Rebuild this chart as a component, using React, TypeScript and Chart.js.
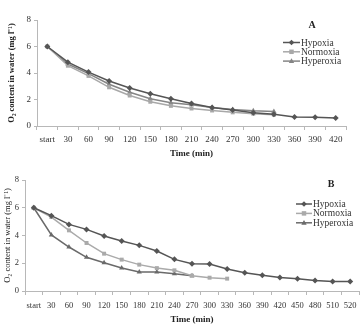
import React, { useEffect, useRef } from 'react';
import { Chart, registerables } from 'chart.js';
Chart.register(...registerables);

const labelsA = ['start', '30', '60', '90', '120', '150', '180', '210', '240', '270', '300', '330', '360', '390', '420'];
const hypoxiaA = [6.0, 4.82, 4.07, 3.4, 2.87, 2.44, 2.06, 1.7, 1.4, 1.2, 1.0, 0.88, 0.68, 0.66, 0.6];
const normoxiaA = [6.0, 4.55, 3.78, 2.92, 2.3, 1.83, 1.52, 1.32, 1.17, 1.03, 0.93, 0.85];
const hyperoxiaA = [6.0, 4.68, 3.95, 3.15, 2.55, 2.05, 1.75, 1.6, 1.4, 1.25, 1.15, 1.1];

const labelsB = ['start', '30', '60', '90', '120', '150', '180', '210', '240', '270', '300', '330', '360', '390', '420', '450', '480', '510', '520'];
const hypoxiaB = [6.0, 5.43, 4.8, 4.44, 3.96, 3.6, 3.29, 2.88, 2.28, 1.97, 1.95, 1.58, 1.32, 1.13, 0.98, 0.89, 0.75, 0.68, 0.68];
const normoxiaB = [6.0, 5.33, 4.37, 3.46, 2.69, 2.26, 1.9, 1.65, 1.49, 1.1, 0.96, 0.89];
const hyperoxiaB = [6.0, 4.04, 3.17, 2.43, 2.04, 1.66, 1.37, 1.37, 1.25, 1.1];

const seriesNames = ['Hypoxia', 'Normoxia', 'Hyperoxia'];
const yTicks = [0, 2, 4, 6, 8];

const SERIF = '"Liberation Serif", "Times New Roman", serif';

function drawMarker(ctx: CanvasRenderingContext2D, style: string, x: number, y: number, r: number, color: string) {
  ctx.fillStyle = color;
  ctx.beginPath();
  if (style === 'rectRot') {
    ctx.moveTo(x, y - r);
    ctx.lineTo(x + r, y);
    ctx.lineTo(x, y + r);
    ctx.lineTo(x - r, y);
  } else if (style === 'rect') {
    ctx.rect(x - r * 0.8, y - r * 0.8, r * 1.6, r * 1.6);
  } else {
    ctx.moveTo(x, y - r);
    ctx.lineTo(x + r * 0.95, y + r * 0.7);
    ctx.lineTo(x - r * 0.95, y + r * 0.7);
  }
  ctx.closePath();
  ctx.fill();
}

interface PanelCfg {
  labels: string[];
  data: number[][];
  colors: string[];
  letter: string;
  letterX: number;
  letterY: number;
  legX0: number;
  legX1: number;
  legY0: number;
  legDy: number;
  yAxisWidth: number;
  xAxisHeight: number;
  padTop: number;
  padRight: number;
  tickSize: number;
  yTitleSize: number;
  yTitleBold: boolean;
  yTitlePad: number;
  xTitlePadBottom: number;
  xTickPad: number;
  height: number;
}

const styles = ['rectRot', 'rect', 'triangle'];

function Panel({ cfg, top }: { cfg: PanelCfg; top: number }) {
  const ref = useRef<HTMLCanvasElement>(null);
  useEffect(() => {
    if (!ref.current) return;
    const legendPlugin = {
      id: 'panelLegend',
      afterDraw(chart: any) {
        const ctx = chart.ctx as CanvasRenderingContext2D;
        ctx.save();
        ctx.font = `bold 10px ${SERIF}`;
        ctx.fillStyle = '#222';
        ctx.textAlign = 'center';
        ctx.textBaseline = 'middle';
        ctx.fillText(cfg.letter, cfg.letterX, cfg.letterY);
        chart.data.datasets.forEach((ds: any, i: number) => {
          const y = cfg.legY0 + i * cfg.legDy;
          ctx.strokeStyle = ds.borderColor;
          ctx.lineWidth = 1.5;
          ctx.beginPath();
          ctx.moveTo(cfg.legX0, y);
          ctx.lineTo(cfg.legX1, y);
          ctx.stroke();
          drawMarker(ctx, styles[i], (cfg.legX0 + cfg.legX1) / 2, y, 2.8, ds.borderColor);
          ctx.fillStyle = '#333';
          ctx.font = `9.5px ${SERIF}`;
          ctx.textAlign = 'left';
          ctx.fillText(ds.label, cfg.legX1 + 1, y + 0.5);
        });
        ctx.restore();
      },
    };
    const chart = new Chart(ref.current, {
      type: 'line',
      data: {
        labels: cfg.labels,
        datasets: cfg.data.map((d, i) => ({
          label: seriesNames[i],
          data: d,
          borderColor: cfg.colors[i],
          backgroundColor: cfg.colors[i],
          borderWidth: 1.5,
          pointStyle: styles[i] as any,
          pointRadius: i === 1 ? 2.8 : 3,
          pointBorderWidth: 0,
          tension: 0,
          fill: false,
        })),
      },
      options: {
        animation: false,
        responsive: true,
        maintainAspectRatio: false,
        layout: { padding: { top: cfg.padTop, right: cfg.padRight, left: 0, bottom: 0 } },
        plugins: { legend: { display: false }, tooltip: { enabled: false } },
        scales: {
          x: {
            type: 'category',
            offset: true,
            afterFit: (s: any) => { s.height = cfg.xAxisHeight; },
            grid: { display: true, drawOnChartArea: false, drawTicks: true, tickLength: 4, offset: true, color: '#b8b8b8' },
            border: { display: true, color: '#b8b8b8' },
            ticks: { font: { family: SERIF, size: cfg.tickSize }, color: '#333', padding: cfg.xTickPad, maxRotation: 0, autoSkip: false },
            title: {
              display: true,
              text: 'Time (min)',
              font: { family: SERIF, size: 9, weight: 'bold' },
              color: '#222',
              padding: { top: 0, bottom: cfg.xTitlePadBottom },
            },
          },
          y: {
            min: 0,
            max: 8,
            afterFit: (s: any) => { s.width = cfg.yAxisWidth; },
            afterBuildTicks: (s: any) => { s.ticks = yTicks.map((v) => ({ value: v })); },
            grid: { display: true, drawOnChartArea: false, drawTicks: true, tickLength: 3, color: '#b8b8b8' },
            border: { display: true, color: '#b8b8b8' },
            ticks: { font: { family: SERIF, size: cfg.tickSize }, color: '#333', padding: 3 },
            title: {
              display: true,
              text: 'O₂ content in water (mg l⁻¹)',
              font: { family: SERIF, size: cfg.yTitleSize, weight: cfg.yTitleBold ? 'bold' : 'normal' },
              color: '#222',
              padding: { top: cfg.yTitlePad, bottom: 0 },
            },
          },
        },
      },
      plugins: [legendPlugin],
    } as any);
    return () => chart.destroy();
  }, []);
  return (
    <div style={{ position: 'absolute', left: 0, top, width: 363, height: cfg.height }}>
      <canvas ref={ref} />
    </div>
  );
}

const cfgA: PanelCfg = {
  labels: labelsA,
  data: [hypoxiaA, normoxiaA, hyperoxiaA],
  colors: ['#555555', '#a8a8a8', '#858585'],
  letter: 'A',
  letterX: 312,
  letterY: 25,
  legX0: 283,
  legX1: 300,
  legY0: 42.5,
  legDy: 9.3,
  yAxisWidth: 37,
  xAxisHeight: 37,
  padTop: 20,
  padRight: 17,
  tickSize: 9,
  yTitleSize: 8.5,
  yTitleBold: true,
  yTitlePad: 7,
  xTitlePadBottom: 4,
  xTickPad: 4,
  height: 163,
};

const cfgB: PanelCfg = {
  labels: labelsB,
  data: [hypoxiaB, normoxiaB, hyperoxiaB],
  colors: ['#555555', '#aaaaaa', '#6a6a6a'],
  letter: 'B',
  letterX: 331,
  letterY: 21,
  legX0: 296,
  legX1: 312,
  legY0: 41,
  legDy: 9.4,
  yAxisWidth: 25,
  xAxisHeight: 36,
  padTop: 17,
  padRight: 0,
  tickSize: 8.5,
  yTitleSize: 8.5,
  yTitleBold: false,
  yTitlePad: 3,
  xTitlePadBottom: 2,
  xTickPad: 6,
  height: 164,
};

export default function App() {
  return (
    <div>
      <Panel cfg={cfgA} top={0} />
      <Panel cfg={cfgB} top={163} />
    </div>
  );
}
